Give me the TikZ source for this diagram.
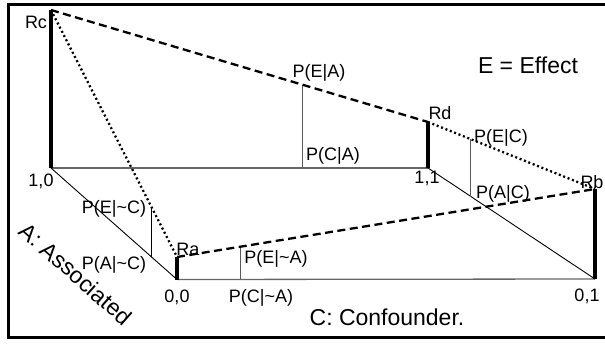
\documentclass[tikz,border=0pt]{standalone}
\usepackage{fontspec}
\setmainfont{Liberation Sans}
\usetikzlibrary{calc}
\begin{document}
\begin{tikzpicture}[x=1pt,y=-1pt,
  bar/.style={line width=4pt},
  dashline/.style={line width=2.3pt, dash pattern=on 8pt off 4.5pt},
  dotline/.style={line width=2.3pt, dash pattern=on 2pt off 2.7pt},
  axis/.style={draw=black!60, line width=1.3pt},
  diag/.style={line width=0.9pt},
  drop/.style={draw=black!65, line width=1pt},
  lbl/.style={font=\fontsize{18}{20}\selectfont, inner sep=0pt},
  big/.style={font=\fontsize{23}{26}\selectfont, inner sep=0pt}]
\useasboundingbox (0,0) rectangle (605,343);
\draw[line width=3pt] (8.5,4) rectangle (612,337.5);
% base points
\coordinate (c10) at (51,168);
\coordinate (c11) at (428,168);
\coordinate (c00) at (177,279.5);
\coordinate (c01) at (595,279);
% tops
\coordinate (Rc) at (51,10);
\coordinate (Rd) at (428,122);
\coordinate (Ra) at (177,257);
\coordinate (Rb) at (595,189);
% base lines
\draw[axis] (c10) -- (c11);
\draw[axis] (c00) -- (c01);
\draw[diag] (c10) -- (c00);
\draw[diag] (c11) -- (c01);
% drop lines
\coordinate (eA) at ($(Rc)!0.668!(Rd)$);
\coordinate (eC) at ($(Rd)!0.257!(Rb)$);
\coordinate (aC) at ($(c11)!0.257!(c01)$);
\coordinate (enC) at ($(Rc)!0.80!(Ra)$);
\coordinate (anC) at ($(c10)!0.80!(c00)$);
\coordinate (enA) at ($(Ra)!0.153!(Rb)$);
\coordinate (cnA) at ($(c00)!0.153!(c01)$);
\draw[drop] (eA) -- (eA |- c10);
\draw[drop] (eC) -- (aC);
\draw[diag] (enC) -- (anC);
\draw[drop] (enA) -- (cnA);
% slopes
\draw[dashline] (Rc) -- (Rd);
\draw[dotline] (Rd) -- (Rb);
\draw[dashline] (Ra) -- (Rb);
\draw[dotline] (Rc) -- (Ra);
% bars
\draw[bar] (Rc) -- (c10);
\draw[bar] (Rd) -- (c11);
\draw[bar] (Ra) -- (c00);
\draw[bar] (Rb) -- (c01);
% labels
\node[lbl] (lRc) at (36,22) {Rc};
\node[lbl] (lRd) at (440,113) {Rd};
\node[lbl] (lRb) at (592,182) {Rb};
\node[lbl] (lRa) at (188,249) {Ra};
\node[lbl] (l10) at (41,181) {1,0};
\node[lbl] (l11) at (427,178) {1,1};
\node[lbl] (l00) at (177,297) {0,0};
\node[lbl] (l01) at (587,296) {0,1};
\node[lbl] (lEA) at (319,73) {P(E|A)};
\node[lbl] (lCA) at (333,156) {P(C|A)};
\node[lbl] (lEC) at (501,138) {P(E|C)};
\node[lbl] (lAC) at (503,194) {P(A|C)};
\node[lbl] (lEnC) at (114,209) {P(E|\textasciitilde C)};
\node[lbl] (lAnC) at (114,265) {P(A|\textasciitilde C)};
\node[lbl] (lEnA) at (276,259) {P(E|\textasciitilde A)};
\node[lbl] (lCnA) at (261,298) {P(C|\textasciitilde A)};
\node[big] (lEff) at (528,65) {E = Effect};
\node[big] (lConf) at (387,317) {C: Confounder.};
\node[big, rotate=-41.5] (lAss) at (76,274) {A: Associated};
\end{tikzpicture}
\end{document}
